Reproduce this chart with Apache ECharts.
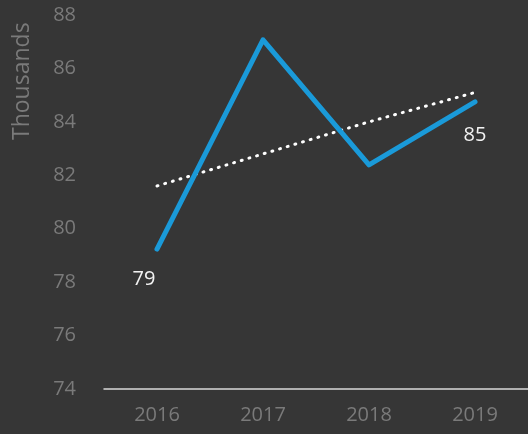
<!DOCTYPE html>
<html>
<head>
<meta charset="utf-8">
<script src="https://cdn.jsdelivr.net/npm/echarts@6/dist/echarts.min.js"></script>
<style>
  html, body { margin: 0; padding: 0; background: #363636; }
  #chart { width: 528px; height: 434px; }
</style>
</head>
<body>
<div id="chart"></div>
<script>
// data
var years = ['2016', '2017', '2018', '2019'];
var values = [79.24, 87.07, 82.39, 84.75];
var trend = [81.6, 82.8, 84.0, 85.1];
var yTicks = [74, 88, 2];  // min, max, step

var chart = echarts.init(document.getElementById('chart'));

// only the first and last point get a label
var lineData = values.map(function (v, i) {
	var item = { value: v };
	if (i === 0) {
		item.label = { show: true, position: 'bottom', offset: [-13, 15] };
	} else if (i === values.length - 1) {
		item.label = { show: true, position: 'bottom', offset: [0, 18] };
	}
	return item;
});

var option = {
	backgroundColor: '#363636',
	animation: false,
	grid: { left: 104, right: 0, top: 15, bottom: 45 },
	graphic: [{
		type: 'text',
		x: 11,
		y: 140,
		rotation: Math.PI / 2,
		style: {
			text: 'Thousands',
			fill: '#7a7a7a',
			font: '23px "Open Sans", sans-serif'
		}
	}],
	xAxis: {
		type: 'category',
		data: years,
		boundaryGap: true,
		axisLine: { lineStyle: { color: '#d9d9d9', width: 1.5 } },
		axisTick: { show: false },
		axisLabel: { color: '#7a7a7a', fontSize: 20, fontFamily: 'Open Sans', margin: 16 }
	},
	yAxis: {
		type: 'value',
		min: yTicks[0],
		max: yTicks[1],
		interval: yTicks[2],
		splitLine: { show: false },
		axisLine: { show: false },
		axisTick: { show: false },
		axisLabel: { color: '#7a7a7a', fontSize: 20, fontFamily: 'Open Sans', margin: 28 }
	},
	series: [
		{
			type: 'line',
			data: trend,
			symbol: 'none',
			lineStyle: { color: '#ffffff', width: 3, type: [1, 7], cap: 'round' },
			z: 1
		},
		{
			type: 'line',
			data: lineData,
			symbol: 'circle',
			symbolSize: 0,
			showSymbol: true,
			itemStyle: { color: '#1a9ad9' },
			lineStyle: { color: '#1a9ad9', width: 5, cap: 'round', join: 'round' },
			label: { color: '#f2f2f2', fontSize: 20, fontFamily: 'Open Sans', formatter: function (p) { return Math.round(p.value); } },
			z: 2
		}
	]
};

chart.setOption(option);
</script>
</body>
</html>
